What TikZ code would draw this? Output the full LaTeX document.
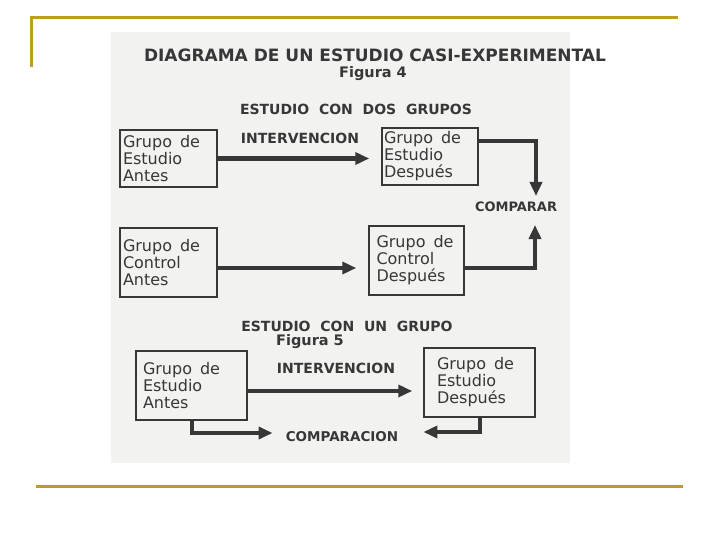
\documentclass[tikz,border=0pt]{standalone}
\usepackage{fontspec}
\setmainfont{DejaVu Sans}
\usetikzlibrary{arrows.meta}

\tikzset{
  grupo/.style={shape=rectangle,draw=diag_ink,line width=1.5pt,align=left,font=\fontsize{16}{17}\selectfont,text=diag_ink},
  rotulo/.style={inner sep=0pt,font=\bfseries\fontsize{14}{16}\selectfont,text=diag_ink},
  flecha/.style={draw=diag_ink,line width=4.5pt,-{Triangle[length=14pt,width=12pt]}}
}

\begin{document}
\begin{tikzpicture}[x=1pt,y=-1pt]
    \definecolor{diag_gold}{RGB}{188,158,38}
    \definecolor{diag_scan}{RGB}{242,242,241}
    \definecolor{diag_ink}{RGB}{55,55,55}
    \useasboundingbox (0,0) rectangle (720,540);
    % slide frame
    \draw[diag_gold,line width=3pt] (31,67) -- (31,18) -- (678,18);
    \draw[diag_gold,line width=3pt] (36,486) -- (683,486);
    \fill[diag_scan] (111,32) rectangle (570,463);
    % titles
    \node[rotulo,font=\bfseries\fontsize{17}{19}\selectfont] (titulo) at (375,55) {DIAGRAMA DE UN ESTUDIO CASI-EXPERIMENTAL};
    \node[rotulo,font=\bfseries\fontsize{14.5}{16}\selectfont] (fig4) at (373,74) {Figura 4};
    \node[rotulo] (dosgrupos) at (356,109) {ESTUDIO\ \ CON\ \ DOS\ \ GRUPOS};
    % estudio con dos grupos
    \node[grupo,minimum width=97pt,minimum height=57pt,inner xsep=3pt,text width=91pt] (gea) at (168.5,158.5) {Grupo\ \,de\\Estudio\\Antes};
    \node[grupo,minimum width=96pt,minimum height=57pt,inner xsep=2pt,text width=92pt] (ged) at (430,156.5) {Grupo\ \,de\\Estudio\\Después};
    \node[grupo,minimum width=97pt,minimum height=69pt,inner xsep=3pt,text width=91pt] (gca) at (168.5,262.5) {Grupo\ \,de\\Control\\Antes};
    \node[grupo,minimum width=95pt,minimum height=69pt,inner xsep=7.5pt,text width=80pt] (gcd) at (416.5,260.5) {Grupo\ \,de\\Control\\Después};
    \node[rotulo] (interv) at (300,138) {INTERVENCION};
    \node[rotulo,font=\bfseries\fontsize{13}{15}\selectfont] (comparar) at (516,207) {COMPARAR};
    \coordinate (cmpA) at (536,196);
    \coordinate (cmpB) at (535,225);
    \draw[flecha] (gea.east) -- (gea.east -| ged.west) [shorten >=12pt];
    \draw[flecha,line width=4pt] ([yshift=-5.5pt]gca.east) -- ([yshift=-5.5pt]gca.east -| gcd.west) [shorten >=12pt];
    \draw[flecha] ([yshift=15.5pt]ged.east) -| (cmpA);
    \draw[flecha,line width=4pt] ([yshift=-7.5pt]gcd.east) -| (cmpB);
    % estudio con un grupo
    \node[rotulo] (ungrupo) at (347,326) {ESTUDIO\ \ CON\ \ UN\ \ GRUPO};
    \node[rotulo,font=\bfseries\fontsize{14.5}{16}\selectfont] (fig5) at (310,342) {Figura 5};
    \node[grupo,minimum width=111pt,minimum height=69pt,inner xsep=7pt,text width=97pt] (gea5) at (191.5,385.5) {Grupo\ \,de\\Estudio\\Antes};
    \node[grupo,minimum width=111pt,minimum height=69pt,inner xsep=13pt,text width=85pt] (ged5) at (479.5,382.5) {Grupo\ \,de\\Estudio\\Después};
    \node[rotulo] (interv5) at (336,368) {INTERVENCION};
    \node[rotulo,font=\bfseries\fontsize{13.5}{15}\selectfont] (comparacion) at (342,437) {COMPARACION};
    \draw[flecha,line width=4pt] ([yshift=-5.5pt]gea5.east) -- ([yshift=-5.5pt]gea5.east -| ged5.west) [shorten >=11pt];
    \draw[flecha,line width=4pt] (gea5.south) |- ([xshift=-13pt,yshift=4pt]comparacion.west);
    \draw[flecha,line width=4pt] (ged5.south) |- ([xshift=25pt,yshift=5pt]comparacion.east);
\end{tikzpicture}
\end{document}
